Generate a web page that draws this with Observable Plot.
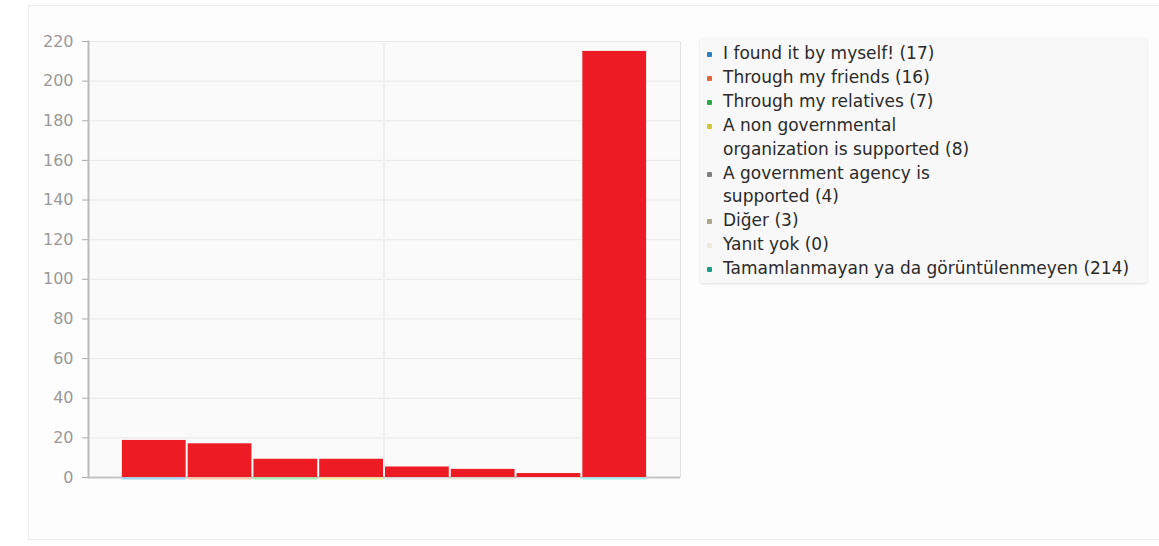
<!DOCTYPE html>
<html>
<head>
<meta charset="utf-8">
<script src="https://cdn.jsdelivr.net/npm/d3@7"></script>
<script src="https://cdn.jsdelivr.net/npm/@observablehq/plot@0.6"></script>
<style>
  html, body { margin: 0; padding: 0; background: #ffffff; width: 1159px; height: 546px; overflow: hidden; font-family: "DejaVu Sans", sans-serif; }
  #card { position: absolute; left: 28px; top: 5px; width: 1140px; height: 535px; border: 1px solid #ececec; background: #fdfdfd; box-sizing: border-box; }
  #chart { position: absolute; left: 0; top: 0; }
  #legend { position: absolute; left: 700px; top: 38px; width: 447px; height: 245px; background: #f8f8f8; border-radius: 3px; box-shadow: 0 1px 3px rgba(0,0,0,0.12); box-sizing: border-box; padding: 4px 0 0 7px; font-size: 17px; color: #2a2a2a; line-height: 23.9px; }
  .item { display: flex; align-items: flex-start; }
  .dot { width: 5px; height: 5px; margin-top: 10px; margin-right: 11px; flex: none; border-radius: 1px; }
  .lbl { white-space: pre-line; }
</style>
</head>
<body>
<div id="card"></div>
<div id="chart"></div>
<div id="legend"></div>
<script>
const categories = ["I found it by myself!", "Through my friends", "Through my relatives", "A non governmental\norganization is supported", "A government agency is\nsupported", "Diğer", "Yanıt yok", "Tamamlanmayan ya da görüntülenmeyen"];
const counts = [17, 16, 7, 8, 4, 3, 0, 214];
const barHeights = [18.7, 17, 9.2, 9.2, 5.3, 4.1, 2, 215];
const seriesColors = ["#2f7fc1", "#e0643c", "#2ca84a", "#cfc63a", "#808080", "#a9a68c", "#ece9dc", "#1a9e8c"];
const stripColors = ["#9fd2f5", "#ffc8a8", "#a8ecaa", "#f5ef9a", "#e6e6e6", "#e8e6d8", "#f4f4f4", "#a0eef0"];
const yTicks = [0, 20, 40, 60, 80, 100, 120, 140, 160, 180, 200, 220];

const data = categories.map((c, i) => ({cat: c, h: barHeights[i], strip: stripColors[i]}));

const chart = Plot.plot({
  width: 690,
  height: 500,
  marginLeft: 88,
  marginRight: 10,
  marginTop: 41,
  marginBottom: 23,
  style: {fontFamily: "DejaVu Sans, sans-serif", fontSize: "16px", background: "transparent", overflow: "visible"},
  x: {type: "band", domain: categories, paddingInner: 0, paddingOuter: 0.5, round: false, axis: null},
  y: {domain: [0, 220], ticks: yTicks, label: null},
  marks: [
    Plot.frame({fill: "#fafafa", stroke: "#e4e4e4"}),
    Plot.gridY(yTicks, {stroke: "#e8e8e8", strokeOpacity: 1}),
    (index, scales, values, dimensions) => {
      const x = scales.x;
      const bw = x.bandwidth();
      const xm = (x(categories[3]) + bw + x(categories[4])) / 2;
      return d3.create("svg:line")
        .attr("x1", xm).attr("x2", xm)
        .attr("y1", dimensions.marginTop).attr("y2", dimensions.height - dimensions.marginBottom)
        .attr("stroke", "#efefef").attr("stroke-width", 2).node();
    },
    Plot.axisY({ticks: yTicks, tickSize: 6, tickPadding: 9, stroke: "#aaa", color: "#999", fontSize: 16, label: null}),
    Plot.frame({anchor: "left", stroke: "#bbb", strokeWidth: 2}),
    Plot.ruleY([0], {stroke: "#c4c4c4", strokeWidth: 2}),
    Plot.barY(data, {x: "cat", y: "h", fill: "#ed1c24", insetLeft: 1, insetRight: 1}),
    Plot.tickY(data, {x: "cat", y: 0, stroke: "strip", strokeWidth: 2, dy: 1, insetLeft: 1, insetRight: 1})
  ]
});
document.getElementById("chart").appendChild(chart);

const legend = document.getElementById("legend");
categories.forEach((c, i) => {
  const item = document.createElement("div");
  item.className = "item";
  const dot = document.createElement("span");
  dot.className = "dot";
  dot.style.background = seriesColors[i];
  const lbl = document.createElement("span");
  lbl.className = "lbl";
  lbl.textContent = c + " (" + counts[i] + ")";
  item.appendChild(dot);
  item.appendChild(lbl);
  legend.appendChild(item);
});
</script>
</body>
</html>
